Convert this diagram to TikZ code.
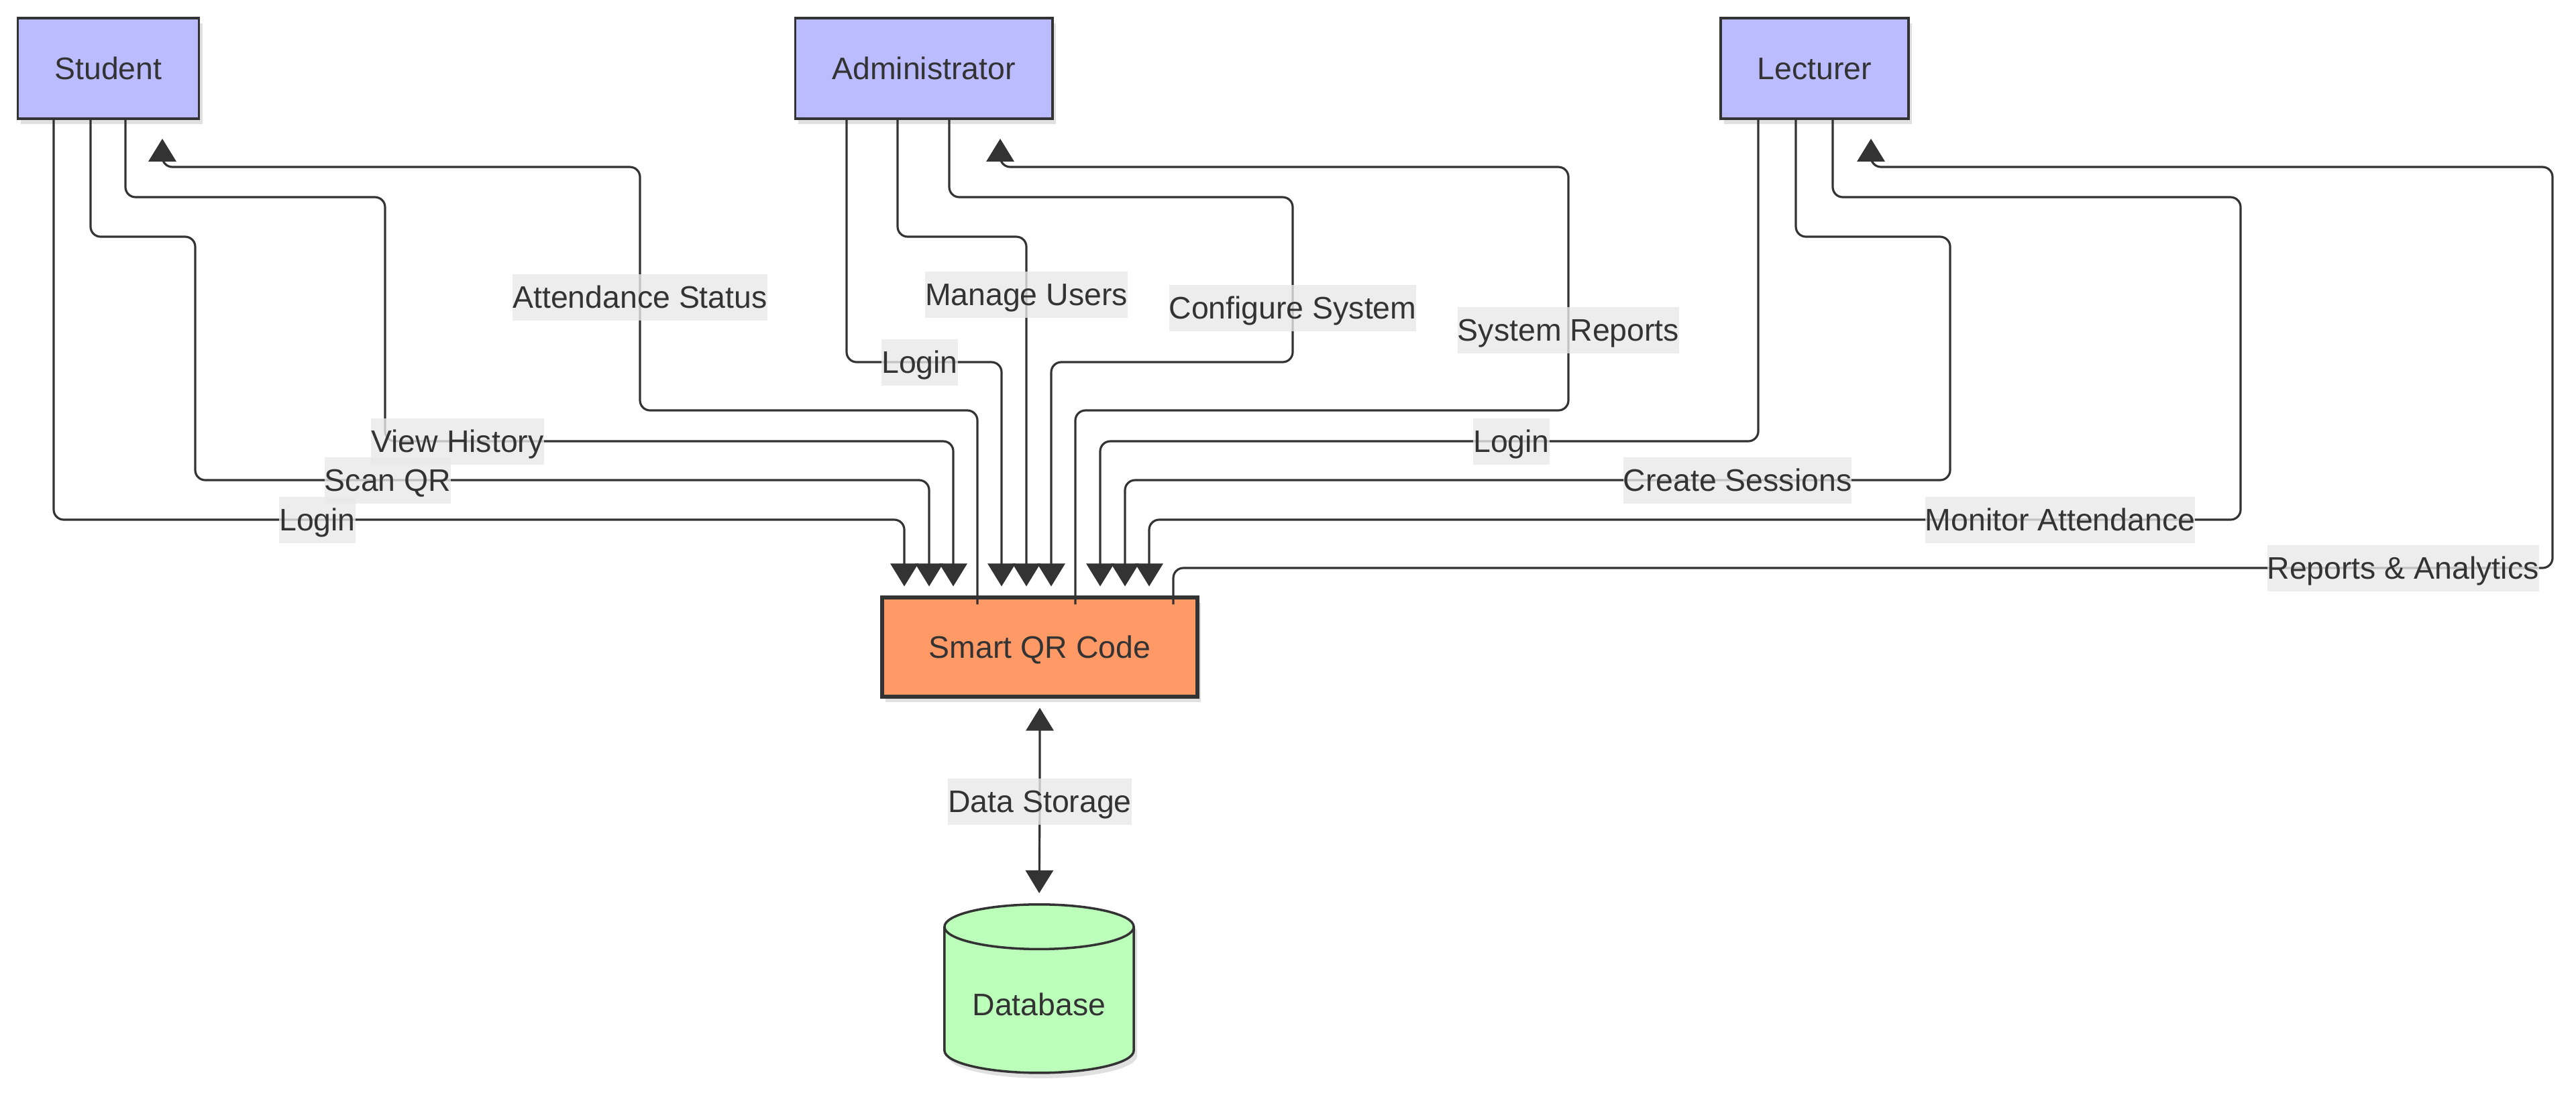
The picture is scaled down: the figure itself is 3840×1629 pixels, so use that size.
\documentclass[tikz,border=0pt]{standalone}
\usepackage{fontspec}
\setmainfont{Liberation Sans}
\usetikzlibrary{arrows.meta,shapes.geometric,shadows}
\definecolor{ink}{HTML}{333333}
\definecolor{actorfill}{HTML}{BBBBFF}
\definecolor{qrfill}{HTML}{FF9966}
\definecolor{dbfill}{HTML}{BBFFBB}
\definecolor{lblfill}{HTML}{E8E8E8}

\begin{document}
\begin{tikzpicture}[x=0.01cm, y=-0.01cm,
		every node/.style={font=\fontsize{13.2}{15.8}\selectfont, text=ink, text height=0.505cm, text depth=0.185cm},
		softshadow/.style={drop shadow={shadow xshift=0.05cm, shadow yshift=-0.08cm, opacity=0.12, fill=black}},
		actor/.style={draw=ink, line width=1pt, fill=actorfill, minimum height=1.5cm, inner xsep=0.55cm, softshadow},
		core/.style={draw=ink, line width=1.7pt, fill=qrfill, minimum width=4.69cm, minimum height=1.47cm, softshadow},
		store/.style={cylinder, shape border rotate=90, aspect=0.3, draw=ink, line width=1pt, fill=dbfill, minimum width=2.82cm, minimum height=2.51cm, softshadow},
		lbl/.style={fill=lblfill, fill opacity=0.8, text opacity=1, inner xsep=0pt, inner ysep=0pt, sharp corners},
		ptip/.tip={Triangle[length=0.34cm,width=0.41cm]},
		flow/.style={draw=ink, line width=0.9pt, rounded corners=0.15cm, -ptip, shorten >=0.14cm},
		back/.style={draw=ink, line width=0.9pt, rounded corners=0.15cm, -ptip, shorten >=0.28cm}]
	\useasboundingbox (0,0) rectangle (3840,1629);
	% actors, system, store
	\node[actor] (stu) at (161.5,102) {Student};
	\node[actor] (adm) at (1377,102) {Administrator};
	\node[actor] (lec) at (2705,102) {Lecturer};
	\node[core] (qr) at (1550,965) {Smart QR Code};
	\node[store, anchor=north] (db) at (1549,1347) {Database};
	% student
	\draw[flow] (stu.south -| 80,0) |- (473,775) node[lbl]{Login} -| (qr.north -| 1348,0);
	\draw[flow] (stu.south -| 135,0) |- (291,353) |- (578,716) node[lbl]{Scan QR} -| (qr.north -| 1385,0);
	\draw[flow] (stu.south -| 187,0) |- (574,294) |- (682,658) node[lbl]{View History} -| (qr.north -| 1421,0);
	\draw[back] (qr.north -| 1457,0) ++(0,13) |- (954,612) -- (954,443) node[lbl]{Attendance Status} |- (242,249) -- (stu.south -| 242,0);
	% administrator
	\draw[flow] (adm.south -| 1262,0) |- (1371,540) node[lbl]{Login} -| (qr.north -| 1493,0);
	\draw[flow] (adm.south -| 1338,0) |- (1530,353) -- (1530,439) node[lbl]{Manage Users} -- (qr.north -| 1530,0);
	\draw[flow] (adm.south -| 1415,0) |- (1927,294) -- (1927,459) node[lbl]{Configure System} |- (1567,540) -- (qr.north -| 1567,0);
	\draw[back] (qr.north -| 1603,0) ++(0,13) |- (2338,612) -- (2338,492) node[lbl]{System Reports} |- (1491,249) -- (adm.south -| 1491,0);
	% lecturer
	\draw[flow] (lec.south -| 2621,0) |- (2253,658) node[lbl]{Login} -| (qr.north -| 1640,0);
	\draw[flow] (lec.south -| 2677,0) |- (2907,353) |- (2590,716) node[lbl]{Create Sessions} -| (qr.north -| 1677,0);
	\draw[flow] (lec.south -| 2732,0) |- (3340,294) |- (3071,775) node[lbl]{Monitor Attendance} -| (qr.north -| 1713,0);
	\draw[back] (qr.north -| 1749,0) ++(0,13) |- (3582,847) node[lbl]{Reports \& Analytics} -| (3805,249) -| (lec.south -| 2789,0);
	% storage
	\draw[draw=ink, line width=0.9pt, ptip-ptip, shorten <=0.14cm, shorten >=0.15cm] (qr.south) -- (qr.south |- 0,1195) node[lbl]{Data Storage} -- (db.north);
\end{tikzpicture}
\end{document}
